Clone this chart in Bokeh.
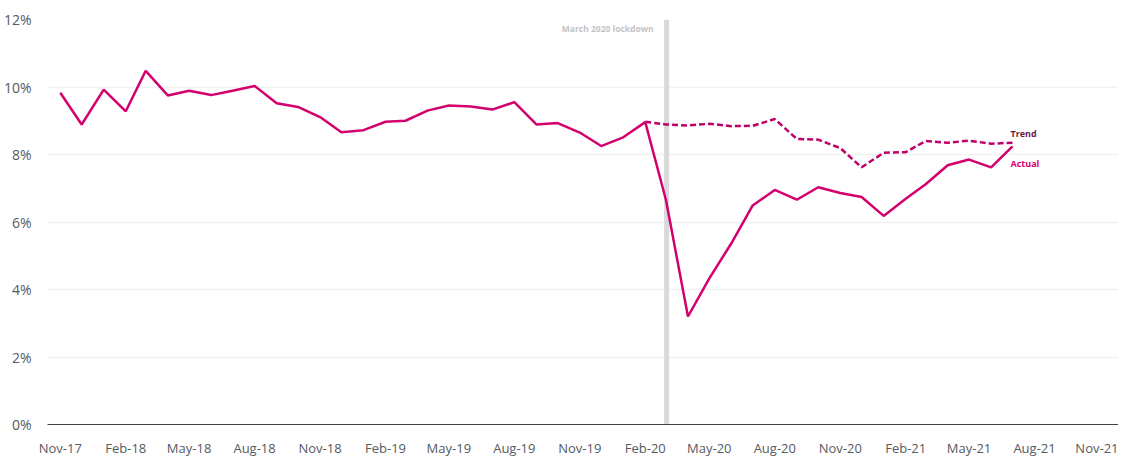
import pandas as pd
from bokeh.plotting import figure
from bokeh.models import Span, Label, FixedTicker, DatetimeTickFormatter, NumeralTickFormatter, Range1d
from bokeh.embed import file_html
from bokeh.resources import INLINE

# ---- data ----
actual_months = pd.date_range("2017-11-01", "2021-07-01", freq="MS")
actual_values = [9.83, 8.89, 9.92, 9.28, 10.48, 9.75, 9.89, 9.76, 9.89, 10.03,
                 9.52, 9.41, 9.11, 8.66, 8.72, 8.97, 9.00, 9.30, 9.45, 9.42,
                 9.33, 9.55, 8.89, 8.93, 8.65, 8.25, 8.51, 8.96, 6.66, 3.20,
                 4.33, 5.37, 6.49, 6.95, 6.66, 7.03, 6.86, 6.74, 6.18, 6.69,
                 7.12, 7.68, 7.85, 7.62, 8.24]
trend_months = pd.date_range("2020-02-01", "2021-07-01", freq="MS")
trend_values = [8.97, 8.89, 8.86, 8.91, 8.84, 8.85, 9.05, 8.46, 8.44, 8.19,
                7.62, 8.05, 8.07, 8.40, 8.35, 8.41, 8.32, 8.35]
tick_labels_dates = pd.date_range("2017-11-01", "2021-11-01", freq="3MS")
y_ticks = [0, 2, 4, 6, 8, 10, 12]
lockdown_date = pd.Timestamp("2020-03-02")
lockdown_text = "March 2020 lockdown"

FONT = "Open Sans"
LINE = "#d4006e"
TREND = "#c0006a"
TREND_TXT = "#6e1a47"

def ms(t):
    return pd.Timestamp(t).value / 1e6

p = figure(width=1118, height=459, output_backend="svg", toolbar_location=None,
           x_axis_type="datetime",
           x_range=Range1d(ms("2017-10-14"), ms("2021-11-27")),
           y_range=Range1d(0, 12),
           min_border_left=47, min_border_right=0, min_border_top=19, min_border_bottom=27)
p.outline_line_color = None
p.background_fill_color = "white"

# axes
p.xaxis.ticker = FixedTicker(ticks=[ms(t) for t in tick_labels_dates])
p.xaxis.formatter = DatetimeTickFormatter(months="%b-%y", days="%b-%y", years="%b-%y")
p.xaxis.axis_line_color = "#444444"
p.xaxis.axis_line_width = 1
p.xaxis.major_tick_line_color = None
p.xaxis.minor_tick_line_color = None
p.xaxis.major_label_text_font = FONT
p.xaxis.major_label_text_font_size = "13px"
p.xaxis.major_label_text_color = "#555a60"
p.xaxis.major_label_standoff = 8

p.yaxis.ticker = FixedTicker(ticks=y_ticks)
p.yaxis.formatter = NumeralTickFormatter(format="0")
p.yaxis.major_label_overrides = {v: f"{v}%" for v in y_ticks}
p.yaxis.axis_line_color = None
p.yaxis.major_tick_line_color = None
p.yaxis.minor_tick_line_color = None
p.yaxis.major_label_text_font = FONT
p.yaxis.major_label_text_font_size = "14px"
p.yaxis.major_label_text_color = "#555a60"
p.yaxis.major_label_standoff = 10

p.xgrid.grid_line_color = None
p.ygrid.grid_line_color = "#f1f1f1"
p.ygrid.grid_line_width = 1.5

# lockdown bar
p.add_layout(Span(location=ms(lockdown_date), dimension="height",
                  line_color="#d9d9d9", line_width=5, level="underlay"))
p.add_layout(Label(x=ms(lockdown_date), y=12, text=lockdown_text,
                   x_offset=-13, y_offset=-3, text_align="right", text_baseline="top",
                   text_font=FONT, text_font_size="8.5px", text_font_style="bold",
                   text_color="#c4c4c4"))

# lines
p.line(trend_months, trend_values, line_color=TREND, line_width=2.5, line_dash="6 3")
p.line(actual_months, actual_values, line_color=LINE, line_width=2.5)

p.add_layout(Label(x=ms(trend_months[-1]), y=trend_values[-1], text="Trend",
                   x_offset=-2, y_offset=3, text_align="left", text_baseline="bottom",
                   text_font=FONT, text_font_size="9px", text_font_style="bold",
                   text_color=TREND_TXT))
p.add_layout(Label(x=ms(actual_months[-1]), y=actual_values[-1], text="Actual",
                   x_offset=-2, y_offset=-11, text_align="left", text_baseline="top",
                   text_font=FONT, text_font_size="9px", text_font_style="bold",
                   text_color=LINE))

open("out.html", "w").write(file_html(p, INLINE))
